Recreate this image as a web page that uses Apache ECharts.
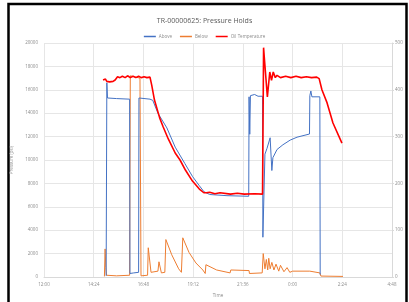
<!DOCTYPE html>
<html>
<head>
<meta charset="utf-8">
<script src="https://cdn.jsdelivr.net/npm/echarts@6/dist/echarts.min.js"></script>
<style>
html,body{margin:0;padding:0;background:#fff;}
#main{width:409px;height:302px;}
</style>
</head>
<body>
<div id="main"></div>
<script>

/********** 数据 (minutes from 0:00, psi / °F) ********** */

var seriesNames = ["Above", "Below", "Oil Temperature"];

var aboveData = [
    [900, 100], [902, 16600], [904, 15300], [930, 15250], [968, 15200], [969, 300], [980, 350],
    [994, 400], [995, 15300], [1000, 15250], [1027, 15200], [1035, 15100], [1050, 14000],
    [1076, 12740], [1100, 11100], [1128, 9700], [1150, 8600], [1170, 7800],
    [1183, 7300], [1200, 7050], [1250, 6950], [1313, 6900], [1314, 15400], [1316, 12200],
    [1318, 15500], [1330, 15600], [1340, 15450], [1353, 15450], [1354, 3400], [1360, 10500],
    [1366, 11000], [1375, 11900], [1379, 12000], [1380, 9100], [1383, 10200], [1395, 10900],
    [1412, 11300], [1433, 11700], [1453, 11950], [1489, 12220], [1490, 15500], [1493, 15900],
    [1496, 15400], [1519, 15400], [1520, 200], [1521, 150]
];

var belowData = [
    [895, 50], [897, 2400], [899, 800], [901, 150], [930, 100], [968, 150], [970, 17200],
    [975, 17100], [998, 17000], [1000, 17100], [1001, 100], [1020, 150], [1022, 2500],
    [1030, 400], [1050, 500], [1053, 1300], [1060, 350], [1070, 400], [1073, 3200],
    [1090, 1900], [1110, 700], [1118, 400], [1122, 3350], [1140, 2100], [1160, 1200],
    [1180, 600], [1187, 300], [1189, 1050], [1220, 600], [1259, 350], [1261, 600],
    [1314, 550], [1315, 300], [1352, 350], [1355, 2000], [1360, 700], [1364, 1500],
    [1368, 600], [1371, 1600], [1375, 700], [1380, 1250], [1386, 600], [1392, 1100],
    [1400, 500], [1405, 1000], [1415, 450], [1424, 800], [1432, 400], [1440, 500],
    [1490, 500], [1492, 400], [1519, 350], [1522, 80], [1586, 50]
];

var oilTempData = [
    [891, 421], [895, 417], [898, 423], [902, 418], [906, 422], [910, 417], [915, 421],
    [920, 418], [926, 421], [931, 419], [933, 428], [940, 426], [947, 429], [955, 426],
    [962, 430], [970, 426], [978, 429], [986, 426], [994, 429], [1002, 426], [1010, 428],
    [1018, 426], [1027, 427], [1032, 410], [1040, 378], [1055, 340], [1065, 321],
    [1080, 295], [1100, 265], [1114, 250], [1130, 228], [1150, 205], [1170, 188],
    [1183, 180], [1186, 184], [1190, 180], [1200, 181], [1215, 178], [1230, 180],
    [1260, 177], [1280, 179], [1300, 177], [1330, 178], [1353, 177], [1356, 490],
    [1358, 470], [1367, 385], [1374, 438], [1379, 420], [1384, 438], [1390, 426],
    [1395, 431], [1405, 426], [1420, 429], [1435, 426], [1450, 429], [1465, 426],
    [1480, 428], [1495, 426], [1510, 427], [1517, 424], [1525, 400], [1540, 372],
    [1557, 329], [1583, 286]
];

var colors = ["#4472c4", "#ed7d31", "#ff0000"];

/********* 时间格式 *********/
function fmtTime(v){
    var m = Math.round(v) % 1440;
    var h = Math.floor(m / 60);
    var mm = m % 60;
    return h + ":" + (mm < 10 ? "0" + mm : mm);
}

/********* 折线图 *********/
var myChart = echarts.init(document.getElementById("main"));

var labelStyle = {color : "#8c8c8c", fontSize : 4.5, fontFamily : "Open Sans"};

var option = {

    animation : false,

    title : {
        text : "TR-00000625: Pressure Holds",
        left : "center",
        top : 12,
        textStyle : {color : "#595959", fontSize : 7, fontWeight : "normal", fontFamily : "Open Sans"}
    },

    legend : {
        top : 29,
        left : "center",
        icon : "rect",
        itemWidth : 12,
        itemHeight : 1.5,
        itemGap : 8,
        textStyle : {color : "#8c8c8c", fontSize : 4.5, fontFamily : "Open Sans", padding : [0, 0, 0, -2]},
        data : seriesNames
    },

    grid : {left : 44, right : 17, top : 43, bottom : 25, outerBoundsMode : "none", containLabel : false},

    graphic : [{
        type : "rect",
        shape : {x : 8.5, y : 4, width : 398, height : 320},
        style : {fill : "none", stroke : "#000", lineWidth : 2.5},
        silent : true
    }],

    xAxis : {
        type : "value",
        min : 720,
        max : 1728,
        interval : 144,
        name : "Time",
        nameLocation : "middle",
        nameGap : 16,
        nameTextStyle : labelStyle,
        axisLine : {lineStyle : {color : "#d9d9d9"}},
        axisTick : {show : false},
        axisLabel : {
            color : "#8c8c8c", fontSize : 4.5, fontFamily : "Open Sans", margin : 5,
            formatter : fmtTime
        },
        splitLine : {show : true, lineStyle : {color : "#e6e6e6", width : 1}}
    },

    yAxis : [
        {
            type : "value",
            min : 0,
            max : 20000,
            interval : 2000,
            name : "Pressure (psi)",
            nameLocation : "middle",
            nameGap : 22,
            nameTextStyle : labelStyle,
            axisLine : {show : false},
            axisTick : {show : false},
            axisLabel : {
                color : "#8c8c8c", fontSize : 4.5, fontFamily : "Open Sans", margin : 6,
                formatter : function(v){ return String(v); }
            },
            splitLine : {show : true, lineStyle : {color : "#e6e6e6", width : 1}}
        },
        {
            type : "value",
            min : 0,
            max : 500,
            interval : 100,
            name : "Temperature (°F)",
            nameLocation : "middle",
            nameGap : 9,
            nameRotate : -90,
            nameTextStyle : labelStyle,
            axisLine : {show : true, lineStyle : {color : "#d9d9d9"}},
            axisTick : {show : true, length : 2, lineStyle : {color : "#d9d9d9"}},
            axisLabel : {color : "#8c8c8c", fontSize : 4.5, fontFamily : "Open Sans", margin : 3},
            splitLine : {show : false}
        }
    ],

    series : [
        {
            name : seriesNames[0],
            type : "line",
            yAxisIndex : 0,
            data : aboveData,
            showSymbol : false,
            color : colors[0],
            lineStyle : {width : 1},
            z : 3
        },
        {
            name : seriesNames[1],
            type : "line",
            yAxisIndex : 0,
            data : belowData,
            showSymbol : false,
            color : colors[1],
            lineStyle : {width : 1},
            z : 2
        },
        {
            name : seriesNames[2],
            type : "line",
            yAxisIndex : 1,
            data : oilTempData,
            showSymbol : false,
            color : colors[2],
            lineStyle : {width : 1.6},
            z : 4
        }
    ]
};

myChart.setOption(option);

</script>
</body>
</html>
